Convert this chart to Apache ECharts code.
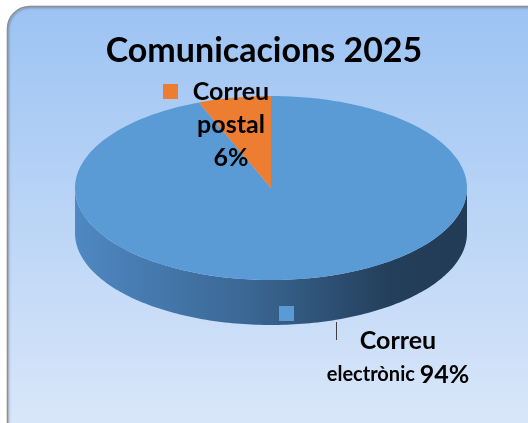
<!DOCTYPE html>
<html>
<head>
<meta charset="utf-8">
<script src="https://cdn.jsdelivr.net/npm/echarts@6/dist/echarts.min.js"></script>
<style>
html,body{margin:0;padding:0;background:#fff;}
#c{width:528px;height:423px;}
</style>
</head>
<body>
<div id="c"></div>
<script>
// ---- data ----
const titleText = 'Comunicacions 2025';
const categories = ['Correu electrònic', 'Correu postal'];
const values = [94, 6];
const sliceColors = ['#5b9bd5', '#ed7d31'];

// ---- layout ----
const CX = 271, CY = 188, RX = 196, RY = 92, DEPTH = 45;
const total = values.reduce((a, b) => a + b, 0);
const FONT = 'Lato, "Open Sans", sans-serif';

function pt(a, dy) {
  return [CX + RX * Math.sin(a), CY - RY * Math.cos(a) + (dy || 0)];
}
function arc(a0, a1, dy) {
  const n = Math.max(2, Math.ceil(Math.abs(a1 - a0) / 0.02));
  const out = [];
  for (let k = 0; k <= n; k++) out.push(pt(a0 + (a1 - a0) * k / n, dy));
  return out;
}

const labelLayout = [
  { x: 398, y: 324, key: [279, 306], text: (n, p) => '{a|Correu}\n{b|electrònic }{a|' + p + '%}' },
  { x: 231, y: 75, key: [163, 84], text: (n, p) => '{a|Correu}\n{a|postal}\n{a|' + p + '%}' }
];

function renderItem(params, api) {
  const i = params.dataIndex;
  let before = 0;
  for (let k = 0; k < i; k++) before += values[k];
  const a0 = before / total * Math.PI * 2;
  const a1 = a0 + api.value(0) / total * Math.PI * 2;
  const color = sliceColors[i];
  const children = [];
  // side (front half visible: PI/2 .. 3PI/2)
  const s0 = Math.max(a0, Math.PI / 2), s1 = Math.min(a1, Math.PI * 1.5);
  if (s1 > s0) {
    const topArc = arc(s0, s1, 0);
    const botArc = arc(s1, s0, DEPTH);
    children.push({
      type: 'polygon',
      shape: { points: topArc.concat(botArc) },
      style: {
        fill: {
          type: 'linear', x: 0, y: 0, x2: 1, y2: 0,
          colorStops: [
            { offset: 0, color: '#4f88c2' },
            { offset: 0.45, color: '#3a6693' },
            { offset: 0.8, color: '#243f5b' },
            { offset: 1, color: '#223b56' }
          ]
        }
      }
    });
  }
  // top face
  children.push({
    type: 'polygon',
    shape: { points: [[CX, CY]].concat(arc(a0, a1, 0)) },
    style: { fill: color }
  });
  const pct = Math.round(api.value(0) / total * 100);
  const L = labelLayout[i];
  children.push({
    type: 'rect',
    shape: { x: L.key[0], y: L.key[1], width: 15, height: 15 },
    style: { fill: color }
  });
  if (i === 0) {
    children.push({
      type: 'line',
      shape: { x1: 336.5, y1: 322, x2: 336.5, y2: 340 },
      style: { stroke: '#404040', lineWidth: 1 }
    });
  }
  children.push({
    type: 'text',
    x: L.x, y: L.y,
    style: {
      text: L.text(categories[i], pct),
      align: 'center', verticalAlign: 'top',
      fill: '#000',
      rich: i === 0 ? {
        a: { fontFamily: FONT, fontWeight: 'bold', fontSize: 25, lineHeight: 34, fill: '#000' },
        b: { fontFamily: FONT, fontWeight: 'bold', fontSize: 20, lineHeight: 34, fill: '#000' }
      } : {
        a: { fontFamily: FONT, fontWeight: 'bold', fontSize: 25, lineHeight: 33, fill: '#000' }
      }
    }
  });
  return { type: 'group', children: children };
}

const chart = echarts.init(document.getElementById('c'), null, { renderer: 'canvas' });
chart.setOption({
  animation: false,
  graphic: [{
    type: 'rect', z: -10, silent: true,
    shape: { x: 7.5, y: 6.5, width: 560, height: 460, r: 22 },
    style: {
      fill: { type: 'linear', x: 0, y: 0, x2: 0, y2: 1, colorStops: [
        { offset: 0, color: '#9cc3f3' }, { offset: 1, color: '#dfeafa' }] },
      stroke: '#8f8f8f', lineWidth: 1.5,
      shadowColor: 'rgba(0,0,0,0.25)', shadowBlur: 2, shadowOffsetX: 1, shadowOffsetY: 1
    }
  }],
  title: {
    text: titleText, left: 'center', top: 29,
    textStyle: { fontFamily: FONT, fontWeight: 'bold', fontSize: 34, color: '#000' }
  },
  series: [{
    type: 'custom',
    coordinateSystem: 'none',
    renderItem: renderItem,
    data: values.map((v, k) => ({ name: categories[k], value: [v] }))
  }]
});
</script>
</body>
</html>
